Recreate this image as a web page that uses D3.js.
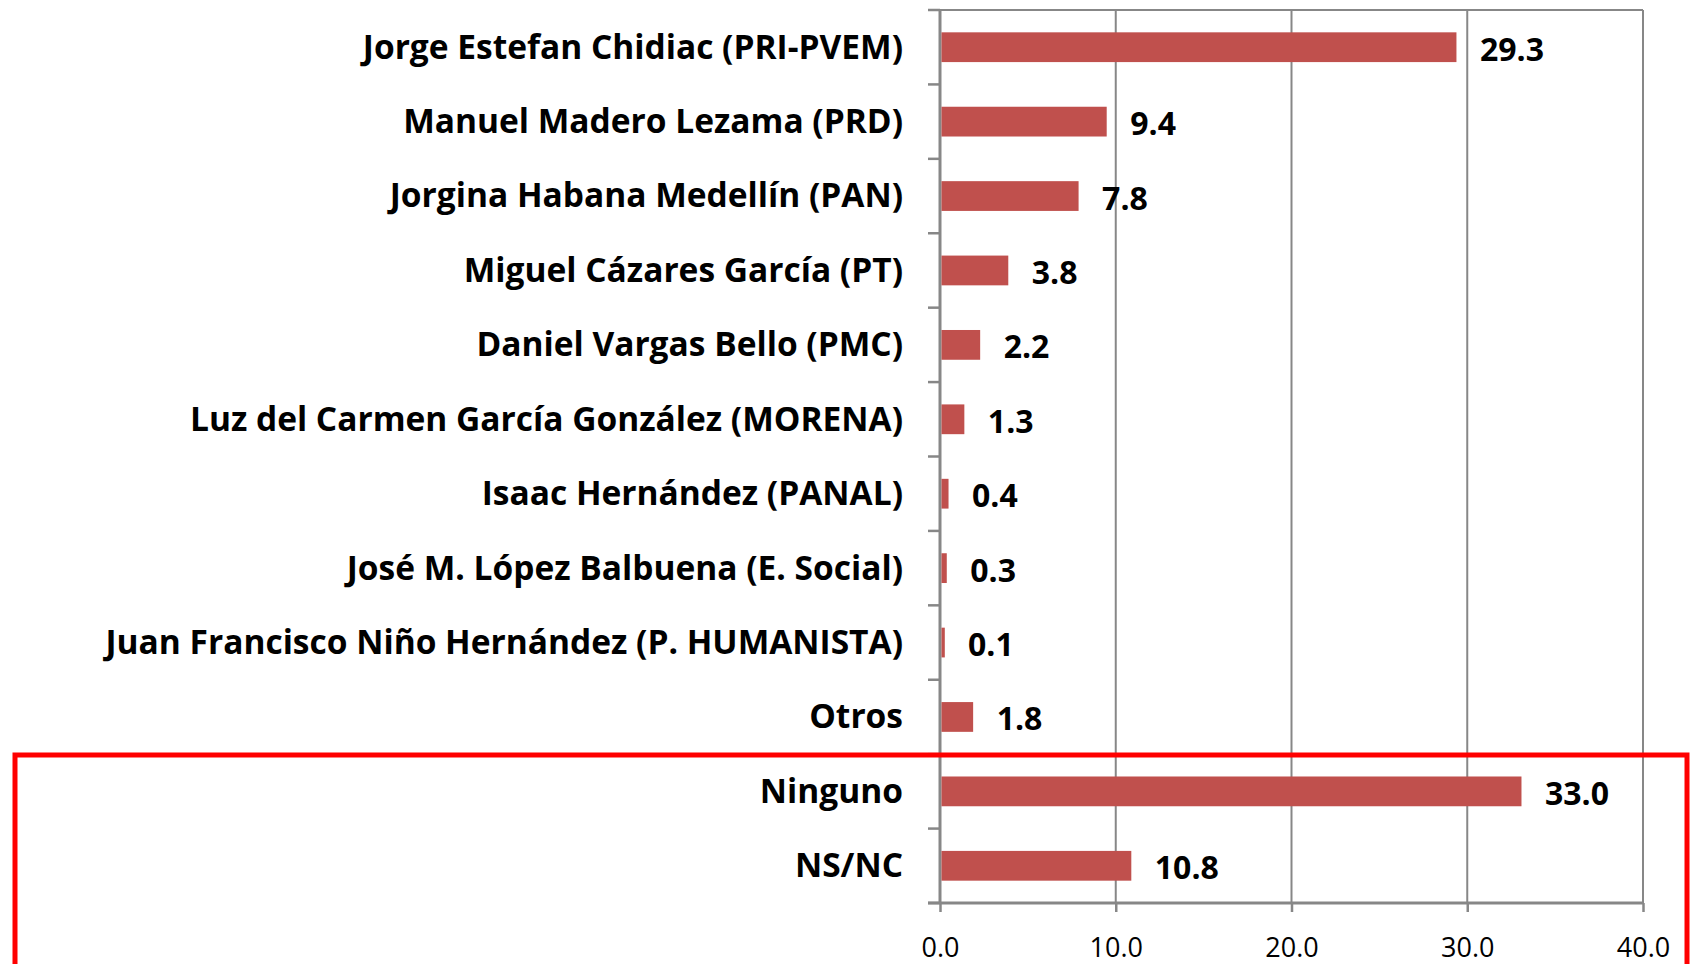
<!DOCTYPE html>
<html>
<head>
<meta charset="utf-8">
<script src="https://cdn.jsdelivr.net/npm/d3@7"></script>
<style>
html,body{margin:0;padding:0;background:#fff;}
svg{display:block;}
</style>
</head>
<body>
<svg id="chart" width="1694" height="964"></svg>
<script>
const categories = [
  "Jorge Estefan Chidiac (PRI-PVEM)",
  "Manuel Madero Lezama (PRD)",
  "Jorgina Habana Medellín (PAN)",
  "Miguel Cázares García (PT)",
  "Daniel Vargas Bello (PMC)",
  "Luz del Carmen García González (MORENA)",
  "Isaac Hernández (PANAL)",
  "José M. López Balbuena (E. Social)",
  "Juan Francisco Niño Hernández (P. HUMANISTA)",
  "Otros",
  "Ninguno",
  "NS/NC"
];
const values = [29.3, 9.4, 7.8, 3.8, 2.2, 1.3, 0.4, 0.3, 0.1, 1.8, 33.0, 10.8];
const xTicks = [0, 10, 20, 30, 40];

(function () {
const svg = d3.select("#chart");
const pL = 940, pR = 1643, pT = 10, pB = 903;
const gray = "#878787";
const barColor = "#C0504D";
const font = "'Open Sans', 'DejaVu Sans', sans-serif";

const x = d3.scaleLinear().domain([0, 40]).range([pL, pR]);
const y = d3.scaleBand().domain(categories).range([pT, pB]).paddingInner(0.6).paddingOuter(0.3);

// gridlines
svg.append("g").selectAll("line").data(xTicks.slice(1)).join("line")
  .attr("x1", d => x(d)).attr("x2", d => x(d))
  .attr("y1", pT).attr("y2", pB)
  .attr("stroke", gray).attr("stroke-width", 2);
// top border
svg.append("line").attr("x1", pL).attr("x2", pR).attr("y1", pT).attr("y2", pT)
  .attr("stroke", gray).attr("stroke-width", 2);

// x axis
const xAxis = d3.axisBottom(x).tickValues(xTicks).tickFormat(d3.format(".1f")).tickSize(9).tickSizeOuter(0);
const gx = svg.append("g").attr("transform", `translate(0,${pB})`).call(xAxis);
gx.select(".domain").attr("stroke", gray).attr("stroke-width", 3).attr("d", `M${pL - 12},0H${pR}`);
gx.selectAll(".tick line").attr("stroke", gray).attr("stroke-width", 2.5);
gx.selectAll(".tick text").attr("font-family", font).attr("font-size", 27).attr("fill", "#000").attr("dy", "0").attr("y", 54);

// y axis (category)
const yAxis = d3.axisLeft(y).tickSize(0);
const gy = svg.append("g").attr("transform", `translate(${pL},0)`).call(yAxis);
gy.select(".domain").attr("stroke", gray).attr("stroke-width", 3).attr("d", `M0,${pT}V${pB}`);
gy.selectAll(".tick text").attr("font-family", font).attr("font-weight", "bold").attr("font-size", 33.5)
  .attr("fill", "#000").attr("x", -37).attr("dy", "0.34em");
// category boundary tick marks
const bounds = d3.range(categories.length + 1).map(i => pT + i * y.step());
gy.append("g").selectAll("line").data(bounds).join("line")
  .attr("x1", -12).attr("x2", 0).attr("y1", d => d).attr("y2", d => d)
  .attr("stroke", gray).attr("stroke-width", 2.5);

// bars (start just right of the axis line)
svg.append("g").selectAll("rect").data(values).join("rect")
  .attr("x", x(0) + 1.5)
  .attr("y", (d, i) => y(categories[i]))
  .attr("width", d => Math.max(x(d) - x(0), 3.3))
  .attr("height", y.bandwidth())
  .attr("fill", barColor);

// value labels
svg.append("g").selectAll("text").data(values).join("text")
  .attr("x", d => Math.max(x(d), x(0) + 3) + 25)
  .attr("y", (d, i) => y(categories[i]) + y.bandwidth() / 2 + 1)
  .attr("dominant-baseline", "central")
  .attr("font-family", font).attr("font-weight", "bold").attr("font-size", 32)
  .attr("fill", "#000")
  .text(d => d.toFixed(1));

// red highlight box
svg.append("rect")
  .attr("x", 15).attr("y", 755).attr("width", 1672).attr("height", 260)
  .attr("fill", "none").attr("stroke", "#FF0000").attr("stroke-width", 5);
})();
</script>
</body>
</html>
